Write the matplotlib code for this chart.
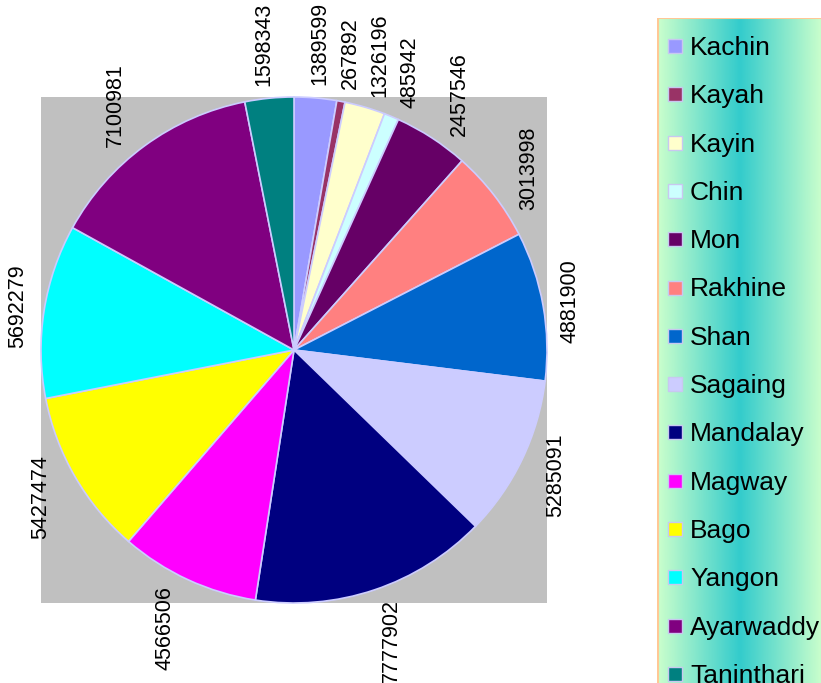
import numpy as np
import matplotlib
matplotlib.use("Agg")
import matplotlib.pyplot as plt
from matplotlib.patches import Rectangle
from matplotlib.colors import LinearSegmentedColormap

plt.rcParams['font.family'] = ['Liberation Sans', 'DejaVu Sans']

# Population by state / region
regions = ["Kachin", "Kayah", "Kayin", "Chin", "Mon", "Rakhine", "Shan",
           "Sagaing", "Mandalay", "Magway", "Bago", "Yangon", "Ayarwaddy",
           "Taninthari"]
population = [1389599, 267892, 1326196, 485942, 2457546, 3013998, 4881900,
              5285091, 7777902, 4566506, 5427474, 5692279, 7100981, 1598343]
colors = ["#9999FF", "#993366", "#FFFFCC", "#CCFFFF", "#660066", "#FF8080",
          "#0066CC", "#CCCCFF", "#000080", "#FF00FF", "#FFFF00", "#00FFFF",
          "#800080", "#008080"]

W, H = 821, 683
fig = plt.figure(figsize=(W / 100, H / 100), dpi=100)

# pie plot area (grey square)
ax = fig.add_axes([41 / W, 1 - 603 / H, 506 / W, 506 / H])
wedges, _ = ax.pie(population, colors=colors, startangle=90, counterclock=False,
                   radius=1, frame=True,
                   wedgeprops=dict(edgecolor="#CCCCFF", linewidth=1.2))
ax.set_facecolor("#C0C0C0")
ax.set_xlim(-1, 1)
ax.set_ylim(-1, 1)
ax.set_xticks([])
ax.set_yticks([])
for s in ax.spines.values():
    s.set_visible(False)

# value labels, rotated, just outside the rim
px = 253.0            # pixels per data unit
gap = 12 / px
half_w = 8 / px
fs = 15.5
for w, val in zip(wedges, population):
    txt = str(val)
    half_h = len(txt) * 12.0 / 2 / px
    a = np.deg2rad((w.theta1 + w.theta2) / 2)
    c, s = np.cos(a), np.sin(a)
    d = gap + abs(c) * half_w + abs(s) * half_h
    ax.text(c * (1 + d), s * (1 + d), txt, rotation=90, ha="center",
            va="center", fontsize=fs, color="black")

# legend with centre gradient
lx0, lx1 = 657, 823
lax = fig.add_axes([lx0 / W, 1 - 700 / H, (lx1 - lx0) / W, (700 - 18) / H])
pitch = 48.3
top = -(46 - 18) / pitch
bottom = (700 - 46) / pitch
lax.set_xlim(lx0, lx1)
lax.set_ylim(bottom, top)
lax.axis("off")
cmap = LinearSegmentedColormap.from_list("grad", ["#CCFFCC", "#33CCCC", "#CCFFCC"])
grad = np.linspace(0, 1, 256).reshape(1, -1)
lax.imshow(grad, cmap=cmap, aspect="auto", extent=[lx0, lx1, bottom, top],
           interpolation="bicubic", zorder=0)
lax.add_patch(Rectangle((lx0 + 0.5, top), lx1 - lx0, bottom - top, fill=False,
                        edgecolor="#FFC895", linewidth=1.5, zorder=3))
sq = 14 / pitch
for i, (name, col) in enumerate(zip(regions, colors)):
    lax.add_patch(Rectangle((668, i - sq / 2), 14, sq, facecolor=col,
                            edgecolor="#C8C8F0", linewidth=1.0, zorder=2))
    lax.text(690, i + 9 / pitch, name, fontsize=19, va="baseline",
             ha="left", color="black", zorder=4)

fig.savefig("out.png", dpi=100)
